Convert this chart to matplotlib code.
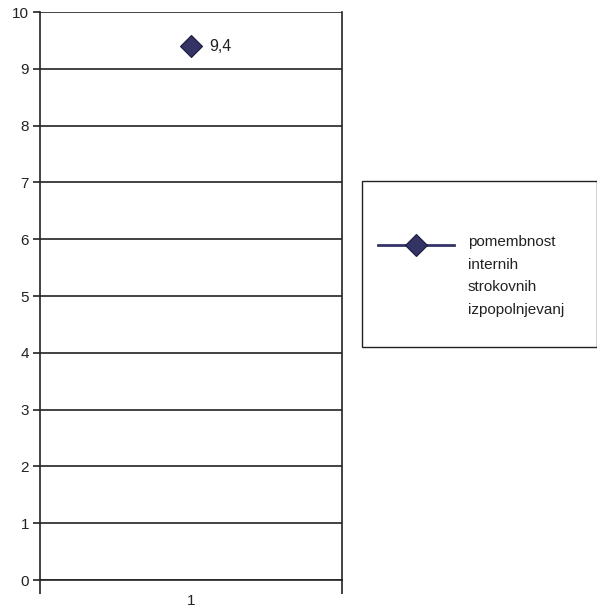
import matplotlib.pyplot as plt
from matplotlib.patches import Rectangle
from matplotlib.lines import Line2D

plt.rcParams['font.family'] = ['Liberation Sans', 'DejaVu Sans']

categories = ['1']
values = [9.4]
value_labels = ['9,4']
series_name = 'pomembnost\ninternih\nstrokovnih\nizpopolnjevanj'
yticks = list(range(0, 11))

navy = '#333366'
ink = '#222222'

fig = plt.figure(figsize=(5.97, 6.10), dpi=100)
ax = fig.add_axes([40 / 597, 30 / 610, 302 / 597, 568 / 610])

x = list(range(len(categories)))
ax.plot(x, values, color=navy, marker='D', markersize=11,
        markeredgecolor='#1a1a40', markeredgewidth=0.8, linestyle='-', zorder=5)
for xi, v, lab in zip(x, values, value_labels):
    ax.annotate(lab, (xi, v), xytext=(13, 0), textcoords='offset points',
                va='center', ha='left', fontsize=11.5, color=ink)

ax.set_xlim(-0.5, len(categories) - 0.5)
ax.set_ylim(0, 10)
ax.set_yticks(yticks)
ax.yaxis.grid(True, color=ink, linewidth=1.2)
ax.set_axisbelow(True)

# category boundaries as ticks, label in the middle
ax.set_xticks([i - 0.5 for i in range(len(categories) + 1)])
ax.set_xticklabels([])
ax.set_xticks(x, minor=True)
ax.set_xticklabels(categories, minor=True)
ax.tick_params(axis='x', which='major', length=10, width=1.2, color=ink, direction='out')
ax.tick_params(axis='x', which='minor', length=0, pad=10, labelsize=11, labelcolor=ink)
ax.tick_params(axis='y', length=5, width=1.2, color=ink, labelsize=11, labelcolor=ink, pad=3)

for side in ['left', 'right', 'bottom']:
    ax.spines[side].set_color(ink)
    ax.spines[side].set_linewidth(1.2)
ax.spines['top'].set_visible(False)

# legend box, drawn by hand so the key lines up with the first text line
fig.patches.append(Rectangle((362 / 597, (610 - 347) / 610), 235 / 597, 166 / 610,
                             transform=fig.transFigure, fill=False,
                             edgecolor=ink, linewidth=1.0))
key_y = (610 - 245) / 610
fig.add_artist(Line2D([378 / 597, 454 / 597], [key_y, key_y], transform=fig.transFigure,
                      color=navy, linewidth=2))
fig.add_artist(Line2D([416 / 597], [key_y], transform=fig.transFigure,
                      color=navy, marker='D', markersize=11,
                      markeredgecolor='#1a1a40', markeredgewidth=0.8))
fig.text(468 / 597, (610 - 235) / 610, series_name, ha='left', va='top',
         fontsize=11, color=ink, linespacing=1.78)

fig.savefig('out.png', dpi=100)
